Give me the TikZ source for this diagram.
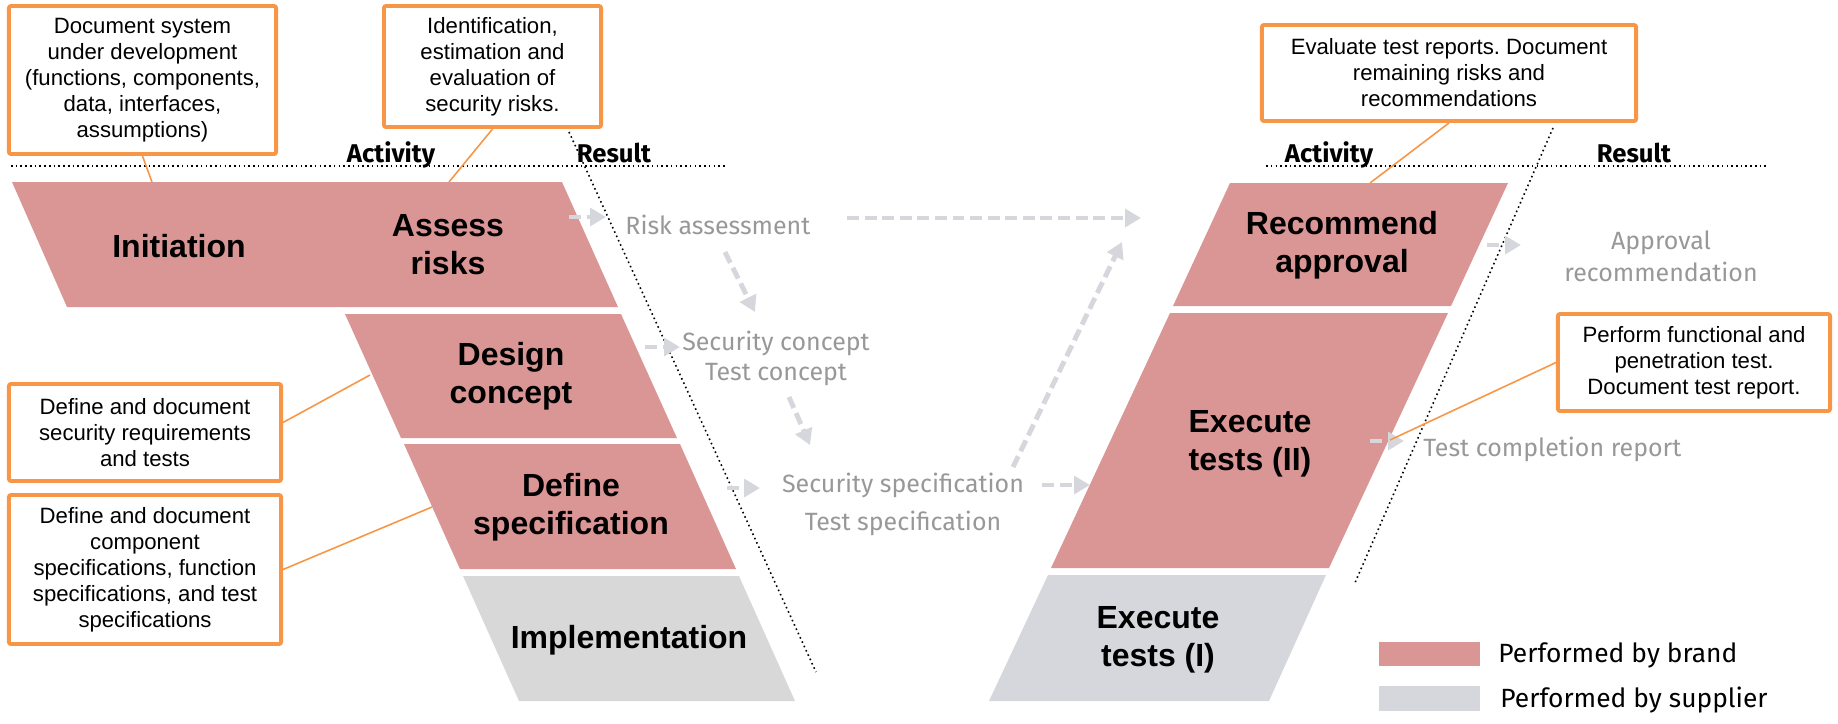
\documentclass[tikz,border=0pt]{standalone}
\usepackage{fontspec}
\setmainfont{Liberation Sans}
\newfontfamily\resfont{Fira Sans}
\usepackage{xcolor}
\usepackage{tikz}
\usetikzlibrary{arrows.meta}
\usetikzlibrary{calc}
\frenchspacing

\definecolor{brand}{RGB}{217,150,148}
\definecolor{supplier}{RGB}{216,216,216}
\definecolor{supplierb}{RGB}{214,215,220}
\definecolor{callout}{RGB}{247,150,70}
\definecolor{resgray}{RGB}{152,152,152}
\definecolor{arrgray}{RGB}{214,215,220}

\tikzset{
	phase/.style={font=\fontsize{9.1}{10.8}\selectfont\bfseries, align=center},
	note/.style={draw=callout, line width=1.1pt, rounded corners=0.6pt, fill=white, align=center, inner sep=0pt, font=\fontsize{6.3}{7.4}\selectfont},
	res/.style={text=resgray, font=\resfont\fontsize{7.1}{8.5}\selectfont, align=center},
	head/.style={font=\resfont\bfseries\fontsize{7.3}{8.5}\selectfont},
	resarrow/.style={draw=arrgray, line width=1.4pt, dash pattern=on 3.4pt off 1.6pt, -{Triangle[length=4.5pt,width=5pt]}},
	notewire/.style={draw=callout, line width=0.45pt},
	sepline/.style={line width=0.45pt, dash pattern=on 0.45pt off 0.9pt},
}

\begin{document}
\begin{tikzpicture}[x=0.01cm, y=-0.01cm]
			\useasboundingbox (0,0) rectangle (1838,723);
			
			%activity shapes
			\fill[brand] (12,182) -- (562,182) -- (618,307) -- (67,307) -- cycle;
			\fill[brand] (345,314) -- (621,314) -- (677,438) -- (401,438) -- cycle;
			\fill[brand] (404,444) -- (680,444) -- (736,569) -- (460,569) -- cycle;
			\fill[supplier] (463,576) -- (739,576) -- (795,701) -- (519,701) -- cycle;
			
			\fill[brand] (1230,183) -- (1508,183) -- (1451,306) -- (1173,306) -- cycle;
			\fill[brand] (1170,313) -- (1448,313) -- (1329,568) -- (1051,568) -- cycle;
			\fill[supplierb] (1048,575) -- (1326,575) -- (1269,701) -- (989,701) -- cycle;
			
			%separators
			\draw[sepline] (11,166) -- (727,166);
			\draw[sepline] (1266,166) -- (1768,166);
			\draw[sepline] (569,132) -- (816,672);
			\draw[sepline] (1553,128) -- (1354,585);
			
			%nodes
			\node[head, anchor=base] (actl) at (391,162) {Activity};
			\node[head, anchor=base] (resl) at (614,162) {Result};
			\node[head, anchor=base] (actr) at (1329,162) {Activity};
			\node[head, anchor=base] (resr) at (1634,162) {Result};
			
			\node[phase] (init) at (179,246) {Initiation};
			\node[phase] (assess) at (448,245) {Assess\\risks};
			\node[phase] (design) at (511,376) {Design\\concept};
			\node[phase] (define) at (571,507) {Define\\specification};
			\node[phase] (impl) at (629,640) {Implementation};
			\node[phase] (recom) at (1342,245) {Recommend\\approval};
			\node[phase] (exectwo) at (1250,444) {Execute\\tests (II)};
			\node[phase] (execone) at (1158,640) {Execute\\tests (I)};
			
			\node[res, anchor=west] (rassess) at (613,225) {Risk assessment};
			\node[res, font=\resfont\fontsize{7.1}{8.5}\selectfont] (rconcept) at (776,358) {Security concept\\Test concept};
			\node[res, font=\resfont\fontsize{7.1}{10.8}\selectfont] (rspec) at (903,504) {Security specification\\Test specification};
			\node[res, font=\resfont\fontsize{7.1}{9.1}\selectfont] (rapprove) at (1661,256) {Approval\\recommendation};
			\node[res, anchor=west] (rreport) at (1411,449) {Test completion report};
			
			\node[note, minimum width=2.67cm, minimum height=1.48cm] (nsys) at (142.5,80) {Document system\\under development\\(functions, components,\\data, interfaces,\\assumptions)};
			\node[note, minimum width=2.17cm, minimum height=1.21cm] (nrisk) at (492.5,66.5) {Identification,\\estimation and\\evaluation of\\security risks.};
			\node[note, minimum width=3.74cm, minimum height=0.96cm] (nrep) at (1449,73) {Evaluate test reports. Document\\remaining risks and\\recommendations};
			\node[note, minimum width=2.72cm, minimum height=0.97cm] (nexec) at (1694,362.5) {Perform functional and\\penetration test.\\Document test report.};
			\node[note, minimum width=2.72cm, minimum height=0.97cm] (nconc) at (145,432.5) {Define and document\\security requirements\\and tests};
			\node[note, minimum width=2.72cm, minimum height=1.49cm] (nspec) at (145,569.5) {Define and document\\component\\specifications, function\\specifications, and test\\specifications};
			
			%legend
			\fill[brand] (1379,642) rectangle (1480,666);
			\fill[supplierb] (1379,686) rectangle (1480,711);
			\node[res, text=black, anchor=west, font=\resfont\fontsize{7.5}{9}\selectfont] (legbrand) at (1486,655) {Performed by brand};
			\node[res, text=black, anchor=west, font=\resfont\fontsize{7.5}{9}\selectfont] (legsupp) at (1488,700) {Performed by supplier};
			
			%coordinates
			\coordinate (wInit) at (152,182);
			\coordinate (wAssess) at (449,182);
			\coordinate (wRecom) at (1370,183);
			\coordinate (wExec) at (1390,440);
			\coordinate (wDesign) at (370,375);
			\coordinate (wDefine) at (432,507);
			
			\coordinate (AroneA) at (569,217);   \coordinate (AroneB) at (606,217);
			\coordinate (ArtwoA) at (847,218);   \coordinate (ArtwoB) at (1141,218);
			\coordinate (ArthrA) at (725,252);   \coordinate (ArthrB) at (755,312);
			\coordinate (ArfA) at (645,347);     \coordinate (ArfB) at (680,347);
			\coordinate (ArfiveA) at (789,397);  \coordinate (ArfiveB) at (810,445);
			\coordinate (ArsixA) at (727,488);   \coordinate (ArsixB) at (760,488);
			\coordinate (ArsevA) at (1042,485);  \coordinate (ArsevB) at (1090,485);
			\coordinate (AreigA) at (1013,467);  \coordinate (AreigB) at (1122,242);
			\coordinate (ArnineA) at (1370,441); \coordinate (ArnineB) at (1404,441);
			\coordinate (ArtenA) at (1487,245);  \coordinate (ArtenB) at (1521,245);
			
			%result arrows
			\draw[resarrow] (AroneA) -- (AroneB);
			\draw[resarrow] (ArtwoA) -- (ArtwoB);
			\draw[resarrow] (ArthrA) -- (ArthrB);
			\draw[resarrow] (ArfA) -- (ArfB);
			\draw[resarrow] (ArfiveA) -- (ArfiveB);
			\draw[resarrow] (ArsixA) -- (ArsixB);
			\draw[resarrow] (ArsevA) -- (ArsevB);
			\draw[resarrow] (AreigA) -- (AreigB);
			\draw[resarrow] (ArnineA) -- (ArnineB);
			\draw[resarrow] (ArtenA) -- (ArtenB);
			
			%callout wires
			\draw[notewire] (nsys.south) -- (wInit);
			\draw[notewire] (nrisk.south) -- (wAssess);
			\draw[notewire] (nrep.south) -- (wRecom);
			\draw[notewire] (nexec.west) -- (wExec);
			\draw[notewire] ($(nconc.east)+(0,-10)$) -- (wDesign);
			\draw[notewire] (nspec.east) -- (wDefine);
\end{tikzpicture}
\end{document}
